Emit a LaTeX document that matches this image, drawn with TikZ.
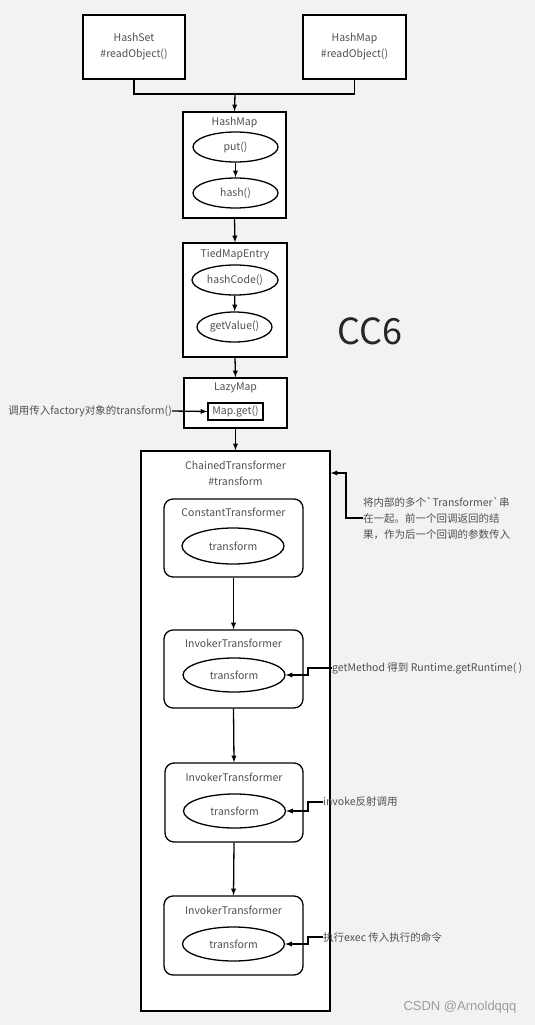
\documentclass[tikz,border=0pt]{standalone}
\usepackage{fontspec}
\setmainfont{Noto Sans CJK SC}[Ligatures=TeXOff]
\newfontfamily\wmfont{Liberation Sans}
\usetikzlibrary{calc}
\usetikzlibrary{shapes,arrows}
\definecolor{bggray}{HTML}{F2F2F4}
\definecolor{txtgray}{HTML}{505050}
\definecolor{wmgray}{HTML}{9C9C9C}

\begin{document}
\begin{tikzpicture}[x=1pt, y=-1pt,
    box/.style={draw, line width=1.3pt, fill=white, inner sep=0pt},
    rbox/.style={box, rounded corners=9pt},
    oval/.style={ellipse, draw, line width=1.3pt, fill=white, inner sep=0pt, minimum height=30pt},
    lbl/.style={text=txtgray, font=\fontsize{10.5}{16}\selectfont, inner sep=0pt},
    link/.style={line width=1.3pt, -latex},
    wire/.style={line width=1.3pt}]

    \fill [bggray] (0,0) rectangle (535,1025);
    \useasboundingbox (0,0) rectangle (535,1025);

    % entry points
    \node [box, lbl, align=center, minimum width=102pt, minimum height=64pt] (hashset) at (134,47) {HashSet\\\#readObject()};
    \node [box, lbl, align=center, minimum width=103pt, minimum height=64pt] (hashmapro) at (354.5,47) {HashMap\\\#readObject()};
    \coordinate (join) at (235,94);

    % HashMap
    \node [box, minimum width=103pt, minimum height=106pt] (hashmap) at (234.5,165) {};
    \node [lbl] (hashmaptitle) at (234.5,123) {HashMap};
    \node [oval, lbl, minimum width=85pt] (put) at (235.5,147) {put()};
    \node [oval, lbl, minimum width=85pt] (hash) at (235.5,193) {hash()};

    % TiedMapEntry
    \node [box, minimum width=104pt, minimum height=114pt] (tied) at (235,300) {};
    \node [lbl] (tiedtitle) at (235,255) {TiedMapEntry};
    \node [oval, lbl, minimum width=86pt] (hashcode) at (235,280) {hashCode()};
    \node [oval, lbl, minimum width=75pt] (getvalue) at (234.5,327) {getValue()};

    \node [text=black!85, font=\fontsize{36}{40}\selectfont, inner sep=0pt] (cc6) at (370,331) {CC6};

    % LazyMap
    \node [box, minimum width=103pt, minimum height=50pt] (lazymap) at (235.5,403) {};
    \node [lbl] (lazytitle) at (235.5,388) {LazyMap};
    \node [box, lbl, minimum width=55pt, minimum height=17pt] (mapget) at (235.5,411.5) {Map.get()};
    \node [lbl, anchor=east] (factory) at (172,411) {调用传入factory对象的transform()};

    % ChainedTransformer
    \node [box, minimum width=189pt, minimum height=560pt] (chain) at (235.5,731) {};
    \node [lbl, align=center] (chaintitle) at (235.5,473) {ChainedTransformer\\\#transform};
    \node [lbl, align=left, anchor=west] (note) at (363,518) {将内部的多个`Transformer`串\\在一起。前一个回调返回的结\\果，作为后一个回调的参数传入};
    \coordinate (notebend) at (346,473);

    \node [rbox, minimum width=139pt, minimum height=78pt] (const) at (233.5,538) {};
    \node [lbl] (consttitle) at (233.5,512) {ConstantTransformer};
    \node [oval, lbl, minimum width=102pt, minimum height=36pt] (tf0) at (233,546) {transform};

    \node [rbox, minimum width=139pt, minimum height=78pt] (inv1) at (233.5,669) {};
    \node [lbl] (inv1title) at (233.5,643) {InvokerTransformer};
    \node [oval, lbl, minimum width=102pt, minimum height=34pt] (tf1) at (234,675) {transform};
    \node [lbl, anchor=west] (getmethod) at (332,668) {getMethod 得到 Runtime.getRuntime( )};

    \node [rbox, minimum width=138pt, minimum height=79pt] (inv2) at (234,802.5) {};
    \node [lbl] (inv2title) at (234,777) {InvokerTransformer};
    \node [oval, lbl, minimum width=102pt, minimum height=34pt] (tf2) at (234.5,811) {transform};
    \node [lbl, anchor=west] (invoke) at (323,802) {invoke反射调用};

    \node [rbox, minimum width=139pt, minimum height=79pt] (inv3) at (233.5,935.5) {};
    \node [lbl] (inv3title) at (233.5,910) {InvokerTransformer};
    \node [oval, lbl, minimum width=102pt, minimum height=34pt] (tf3) at (233.5,944) {transform};
    \node [lbl, anchor=west] (exec) at (323,937) {执行exec 传入执行的命令};

    \node [text=wmgray, font=\wmfont\fontsize{13}{15}\selectfont, inner sep=0pt] (mark) at (460,1007) {CSDN @Arnoldqqq};

    % connectors
    \draw [wire] (hashset.south) |- (join);
    \draw [wire] (hashmapro.south) |- (join);
    \draw [link] (join) -- (hashmap.north);
    \draw [link] (put) -- (hash);
    \draw [link] (hashmap.south) -- (tied.north);
    \draw [link] (hashcode) -- (getvalue);
    \draw [link] (tied.south) -- (lazymap.north);
    \draw [link] (factory.east) -- (mapget.west);
    \draw [link] (lazymap.south) -- (chain.north);
    \draw [link] (note.west) -| (notebend) -- (chain.east |- notebend);
    \draw [link] (const.south) -- (inv1.north);
    \draw [link] (inv1.south) -- (inv2.north);
    \draw [link] (inv2.south) -- (inv3.north);
    \draw [link] (getmethod.west) -- ++(-24,0) |- (tf1.east);
    \draw [link] (invoke.west) -- ++(-15,0) |- (tf2.east);
    \draw [link] (exec.west) -- ++(-15,0) |- (tf3.east);

\end{tikzpicture}
\end{document}
